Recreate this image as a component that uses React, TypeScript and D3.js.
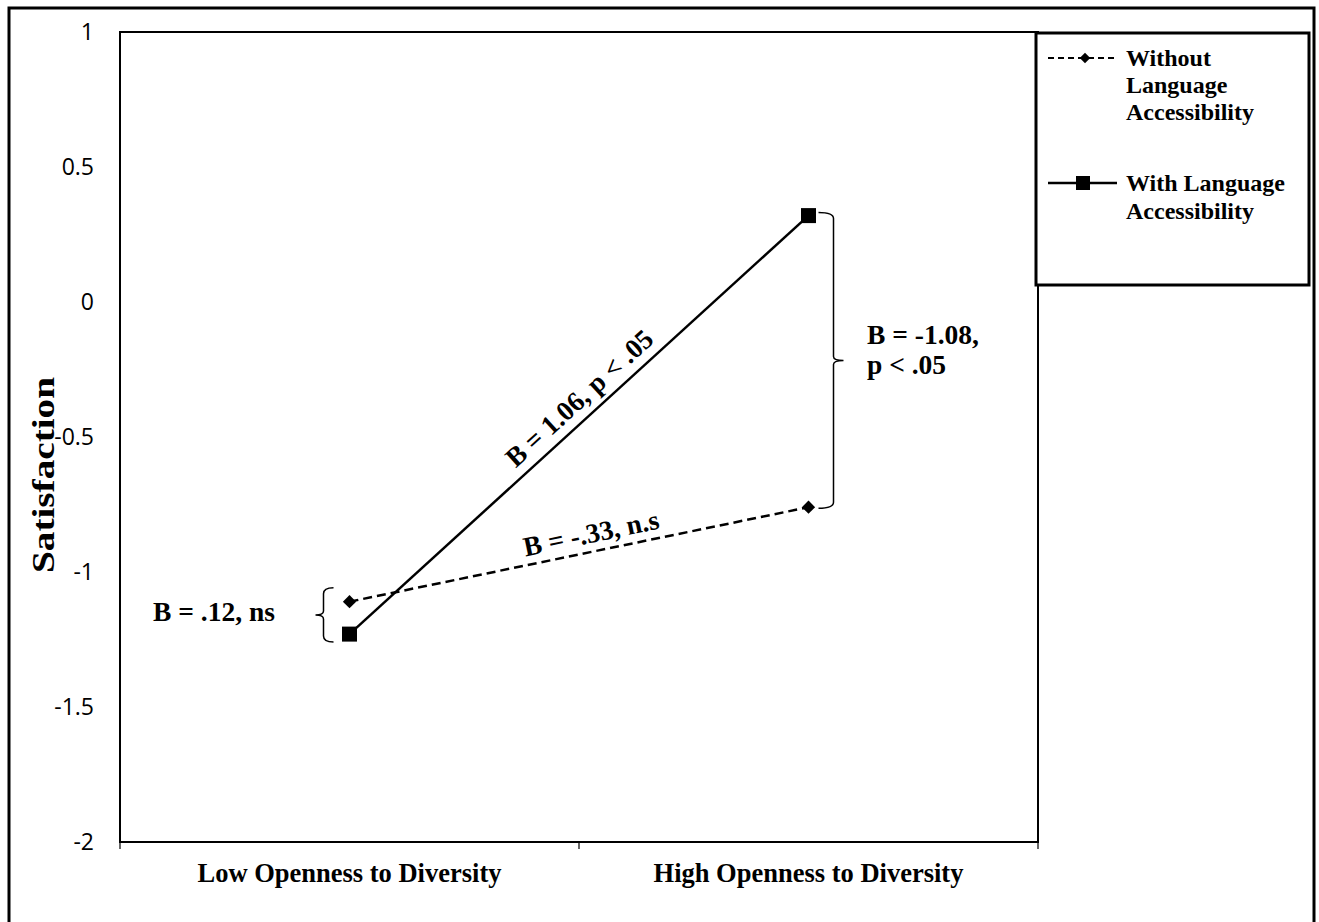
import React from 'react'
import * as d3 from 'd3'

const categories = ['Low Openness to Diversity', 'High Openness to Diversity']
const withoutLA = [-1.11, -0.76]
const withLA = [-1.23, 0.32]
const yTicks = [1, 0.5, 0, -0.5, -1, -1.5, -2]

const serif = '"Liberation Serif", "Times New Roman", serif'
const sans = '"Open Sans", "DejaVu Sans", sans-serif'

// curly brace, vertical, tip pointing left (dir=-1) or right (dir=1)
function brace(x: number, y0: number, y1: number, dir: number, curl: number, tip: number) {
  const m = (y0 + y1) / 2
  return `M${x - dir * curl},${y0} Q${x},${y0} ${x},${y0 + 6} L${x},${m - 4} Q${x},${m} ${x + dir * tip},${m} ` +
    `Q${x},${m} ${x},${m + 4} L${x},${y1 - 6} Q${x},${y1} ${x - dir * curl},${y1}`
}

export default function App() {
  const left = 120, right = 1038, top = 32, bottom = 842

  const x = d3.scaleBand().domain(categories).range([left, right]).padding(0)
  const y = d3.scaleLinear().domain([-2, 1]).range([bottom, top])
  const cx = (i: number) => (x(categories[i]) as number) + x.bandwidth() / 2

  const line = d3.line<number>().x((d, i) => cx(i)).y(d => y(d))

  const edges = [left, ...categories.map(c => (x(c) as number) + x.bandwidth())]

  const diamond = d3.symbol().type(d3.symbolDiamond2).size(112)()
  const smallDiamond = d3.symbol().type(d3.symbolDiamond2).size(70)()

  return (
    <svg width={1319} height={922} style={{ position: 'absolute', left: 0, top: 0, background: '#fff' }}>
      <rect x={9} y={8} width={1305} height={920} fill="#fff" stroke="#000" strokeWidth={3} />

      {/* plot area */}
      <rect x={left} y={top} width={right - left} height={bottom - top} fill="none" stroke="#000" strokeWidth={2} />
      {edges.map((e, i) => (
        <line key={i} x1={e} x2={e} y1={bottom} y2={bottom + 7} stroke="#000" strokeWidth={1.2} />
      ))}

      {yTicks.map(t => (
        <text key={t} x={94} y={y(t)} dy="0.35em" textAnchor="end" fontFamily={sans} fontSize={23} fill="#000">{t}</text>
      ))}

      {categories.map((c, i) => (
        <text key={c} x={cx(i)} y={882} textAnchor="middle" fontFamily={serif} fontWeight="bold" fontSize={26.5}>{c}</text>
      ))}

      <text transform={`translate(54,475) rotate(-90)`} textAnchor="middle" fontFamily={serif} fontWeight="bold" fontSize={32}
        textLength={196} lengthAdjust="spacingAndGlyphs">Satisfaction</text>

      {/* series */}
      <path d={line(withoutLA) as string} fill="none" stroke="#000" strokeWidth={2.5} strokeDasharray="9,5" />
      <path d={line(withLA) as string} fill="none" stroke="#000" strokeWidth={2.5} />
      {withoutLA.map((v, i) => (
        <path key={i} d={diamond as string} transform={`translate(${cx(i)},${y(v)})`} fill="#000" />
      ))}
      {withLA.map((v, i) => (
        <rect key={i} x={cx(i) - 7.5} y={y(v) - 7.5} width={15} height={15} fill="#000" />
      ))}

      {/* braces */}
      <path d={brace(cx(0) - 26, y(withoutLA[0]) - 14, y(withLA[0]) + 8, -1, 10, 8)} fill="none" stroke="#000" strokeWidth={1.5} />
      <path d={brace(cx(1) + 25, y(withLA[1]) - 3, y(withoutLA[1]) + 1, 1, 15, 10)} fill="none" stroke="#000" strokeWidth={1.5} />

      {/* annotations */}
      <g fontFamily={serif} fontWeight="bold" fontSize={27.5} fill="#000">
        <text x={153} y={621}>B = .12, ns</text>
        <text x={867} y={344}>B = -1.08,</text>
        <text x={867} y={374}>p &lt; .05</text>
        <text transform="translate(591,533) rotate(-11.8)" textAnchor="middle" dy="0.35em">B = -.33, n.s</text>
        <text transform="translate(579,398) rotate(-42.3)" textAnchor="middle" dy="0.35em">B = 1.06, p &lt; .05</text>
      </g>

      {/* legend */}
      <rect x={1036} y={33} width={273} height={252} fill="#fff" stroke="#000" strokeWidth={3} />
      <line x1={1048} x2={1117} y1={58} y2={58} stroke="#000" strokeWidth={2} strokeDasharray="6,4" />
      <path d={smallDiamond as string} transform="translate(1085,58)" fill="#000" />
      <line x1={1048} x2={1117} y1={183} y2={183} stroke="#000" strokeWidth={2.5} />
      <rect x={1076} y={176} width={14} height={14} fill="#000" />
      <g fontFamily={serif} fontWeight="bold" fontSize={24} fill="#000">
        <text x={1126} y={66}>Without</text>
        <text x={1126} y={93}>Language</text>
        <text x={1126} y={120}>Accessibility</text>
        <text x={1126} y={191}>With Language</text>
        <text x={1126} y={219}>Accessibility</text>
      </g>
    </svg>
  )
}
